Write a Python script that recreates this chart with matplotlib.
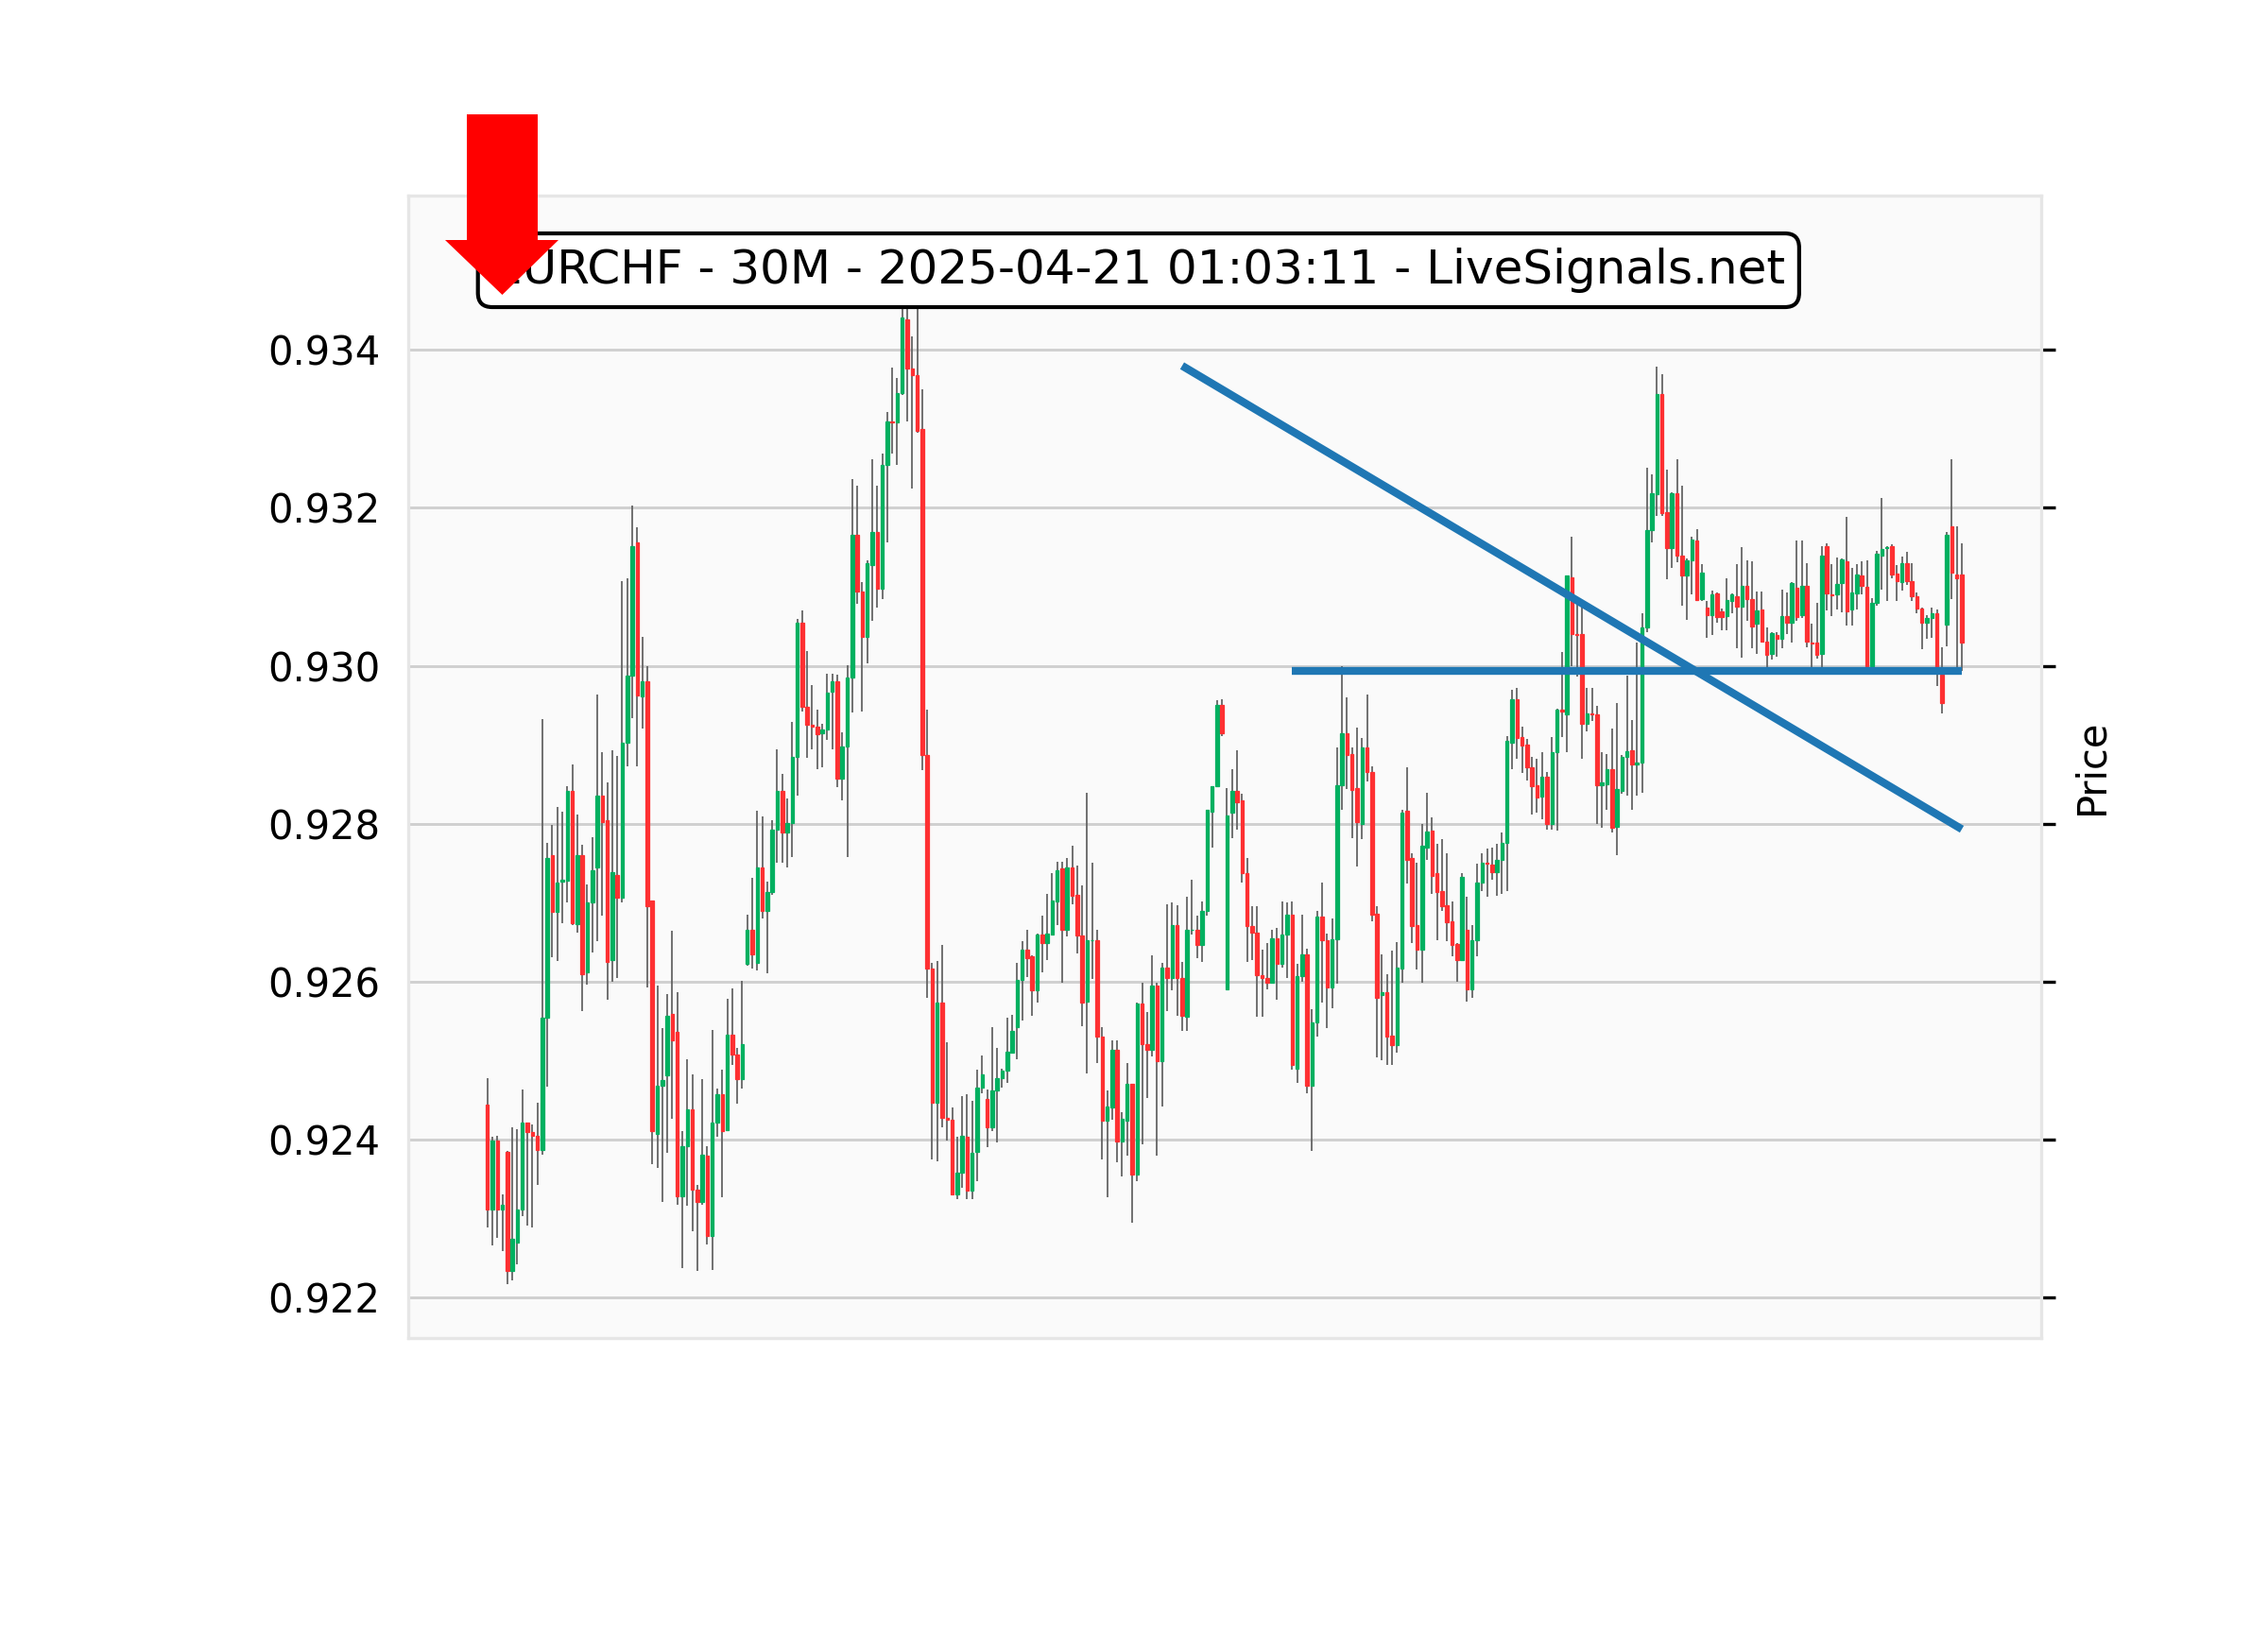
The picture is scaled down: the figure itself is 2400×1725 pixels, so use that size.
import matplotlib
matplotlib.use("Agg")
import matplotlib.pyplot as plt
import numpy as np
from matplotlib.patches import Polygon

title = "EURCHF - 30M - 2025-04-21 01:03:11 - LiveSignals.net"

opens = [
0.92444,0.92311,0.92399,0.92311,0.92384,0.92233,0.92270,0.92311,0.92422,0.92409,
0.92405,0.92387,0.92554,0.92760,0.92688,0.92727,0.92728,0.92842,0.92673,0.92760,
0.92612,0.92700,0.92744,0.92836,0.92804,0.92627,0.92735,0.92706,0.92903,0.92988,
0.93156,0.92961,0.92980,0.92703,0.92407,0.92468,0.92481,0.92559,0.92536,0.92328,
0.92391,0.92438,0.92337,0.92321,0.92379,0.92278,0.92421,0.92457,0.92412,0.92533,
0.92507,0.92476,0.92622,0.92665,0.92624,0.92744,0.92690,0.92713,0.92793,0.92842,
0.92789,0.92801,0.92884,0.93055,0.92948,0.92925,0.92923,0.92915,0.92919,0.92967,
0.92980,0.92857,0.92898,0.92985,0.93166,0.93094,0.93037,0.93128,0.93170,0.93098,
0.93254,0.93310,0.93308,0.93345,0.93439,0.93376,0.93368,0.93300,0.92887,0.92616,
0.92447,0.92573,0.92428,0.92425,0.92331,0.92358,0.92404,0.92335,0.92384,0.92466,
0.92451,0.92416,0.92462,0.92478,0.92487,0.92510,0.92542,0.92602,0.92641,0.92632,
0.92589,0.92660,0.92649,0.92660,0.92702,0.92743,0.92665,0.92745,0.92710,0.92658,
0.92575,0.92653,0.92653,0.92530,0.92424,0.92441,0.92513,0.92398,0.92424,0.92470,
0.92356,0.92572,0.92521,0.92513,0.92595,0.92499,0.92618,0.92604,0.92672,0.92604,
0.92556,0.92666,0.92666,0.92646,0.92689,0.92815,0.92847,0.92951,0.92590,0.92814,
0.92842,0.92829,0.92737,0.92670,0.92662,0.92608,0.92604,0.92599,0.92655,0.92622,
0.92659,0.92685,0.92490,0.92607,0.92634,0.92468,0.92548,0.92682,0.92653,0.92593,
0.92654,0.92849,0.92914,0.92888,0.92845,0.92800,0.92896,0.92866,0.92686,0.92583,
0.92586,0.92531,0.92519,0.92617,0.92816,0.92756,0.92671,0.92640,0.92770,0.92791,
0.92737,0.92715,0.92697,0.92676,0.92648,0.92627,0.92665,0.92590,0.92653,0.92725,
0.92751,0.92748,0.92738,0.92754,0.92776,0.92903,0.92958,0.92910,0.92900,0.92872,
0.92849,0.92834,0.92859,0.92800,0.92890,0.92944,0.92938,0.93112,0.93040,0.93040,
0.92927,0.92940,0.92938,0.92849,0.92850,0.92869,0.92796,0.92842,0.92884,0.92893,
0.92875,0.92878,0.93048,0.93172,0.93217,0.93344,0.93194,0.93149,0.93218,0.93140,
0.93114,0.93133,0.93159,0.93084,0.93074,0.93064,0.93092,0.93069,0.93063,0.93082,
0.93088,0.93075,0.93101,0.93084,0.93053,0.93071,0.93031,0.93015,0.93039,0.93034,
0.93063,0.93054,0.93099,0.93064,0.93101,0.93029,0.93029,0.93015,0.93151,0.93091,
0.93090,0.93105,0.93132,0.93071,0.93092,0.93114,0.93100,0.93000,0.93080,0.93140,
0.93149,0.93151,0.93117,0.93106,0.93130,0.93107,0.93088,0.93073,0.93054,0.93060,
0.93066,0.92989,0.93052,0.93177,0.93116,0.93116]

highs = [
0.92478,0.92403,0.92405,0.92331,0.92385,0.92415,0.92413,0.92463,0.92422,0.92419,
0.92446,0.92933,0.92776,0.92799,0.92821,0.92815,0.92847,0.92875,0.92812,0.92773,
0.92723,0.92783,0.92963,0.92891,0.92852,0.92893,0.92886,0.93107,0.93111,0.93203,
0.93176,0.93036,0.93000,0.92703,0.92595,0.92541,0.92584,0.92664,0.92586,0.92411,
0.92502,0.92483,0.92343,0.92477,0.92391,0.92539,0.92464,0.92489,0.92578,0.92591,
0.92516,0.92601,0.92685,0.92731,0.92816,0.92809,0.92727,0.92805,0.92894,0.92863,
0.92832,0.92929,0.93059,0.93070,0.93019,0.92975,0.92945,0.92927,0.92990,0.92990,
0.92989,0.92916,0.93001,0.93236,0.93228,0.93106,0.93133,0.93261,0.93228,0.93269,
0.93321,0.93378,0.93364,0.93490,0.93480,0.93417,0.93470,0.93350,0.92945,0.92624,
0.92626,0.92647,0.92523,0.92441,0.92404,0.92455,0.92457,0.92449,0.92488,0.92506,
0.92463,0.92542,0.92516,0.92490,0.92554,0.92558,0.92624,0.92651,0.92665,0.92633,
0.92661,0.92684,0.92711,0.92737,0.92752,0.92752,0.92756,0.92772,0.92747,0.92722,
0.92839,0.92750,0.92665,0.92542,0.92462,0.92526,0.92526,0.92434,0.92497,0.92471,
0.92573,0.92598,0.92562,0.92633,0.92598,0.92624,0.92698,0.92700,0.92697,0.92625,
0.92707,0.92729,0.92684,0.92701,0.92818,0.92848,0.92957,0.92958,0.92845,0.92869,
0.92893,0.92838,0.92757,0.92695,0.92696,0.92641,0.92649,0.92665,0.92668,0.92701,
0.92700,0.92702,0.92622,0.92685,0.92642,0.92565,0.92689,0.92725,0.92661,0.92680,
0.92896,0.93000,0.92960,0.92896,0.92922,0.92909,0.92963,0.92873,0.92695,0.92634,
0.92609,0.92639,0.92650,0.92818,0.92871,0.92763,0.92750,0.92800,0.92839,0.92808,
0.92775,0.92781,0.92762,0.92701,0.92649,0.92737,0.92708,0.92672,0.92749,0.92762,
0.92768,0.92770,0.92774,0.92789,0.92911,0.92970,0.92972,0.92923,0.92907,0.92885,
0.92882,0.92891,0.92866,0.92910,0.92946,0.93017,0.93114,0.93163,0.93079,0.93079,
0.92972,0.92972,0.92949,0.92890,0.92888,0.92921,0.92953,0.92887,0.92987,0.92931,
0.93030,0.93067,0.93251,0.93243,0.93379,0.93369,0.93249,0.93220,0.93262,0.93228,
0.93136,0.93163,0.93173,0.93129,0.93082,0.93095,0.93093,0.93072,0.93111,0.93092,
0.93129,0.93150,0.93134,0.93132,0.93094,0.93094,0.93049,0.93043,0.93043,0.93097,
0.93093,0.93106,0.93159,0.93159,0.93130,0.93053,0.93080,0.93152,0.93155,0.93129,
0.93137,0.93136,0.93189,0.93124,0.93129,0.93132,0.93134,0.93086,0.93146,0.93212,
0.93152,0.93154,0.93128,0.93138,0.93144,0.93130,0.93093,0.93074,0.93064,0.93074,
0.93071,0.93024,0.93169,0.93261,0.93177,0.93155]

lows = [
0.92288,0.92266,0.92276,0.92259,0.92217,0.92221,0.92242,0.92303,0.92291,0.92289,
0.92342,0.92381,0.92467,0.92631,0.92626,0.92674,0.92700,0.92671,0.92662,0.92563,
0.92596,0.92637,0.92651,0.92684,0.92577,0.92600,0.92604,0.92700,0.92873,0.92934,
0.92873,0.92920,0.92592,0.92369,0.92364,0.92321,0.92383,0.92426,0.92317,0.92237,
0.92316,0.92284,0.92234,0.92317,0.92267,0.92235,0.92403,0.92327,0.92412,0.92494,
0.92445,0.92465,0.92620,0.92616,0.92614,0.92680,0.92611,0.92710,0.92751,0.92750,
0.92744,0.92758,0.92836,0.92942,0.92883,0.92894,0.92869,0.92872,0.92906,0.92894,
0.92846,0.92830,0.92758,0.92941,0.93078,0.92942,0.93003,0.93057,0.93074,0.93084,
0.93156,0.93269,0.93254,0.93343,0.93309,0.93224,0.93295,0.92868,0.92579,0.92375,
0.92372,0.92416,0.92399,0.92331,0.92325,0.92339,0.92325,0.92325,0.92347,0.92458,
0.92390,0.92411,0.92396,0.92466,0.92472,0.92509,0.92502,0.92551,0.92606,0.92557,
0.92574,0.92612,0.92627,0.92660,0.92671,0.92599,0.92657,0.92698,0.92636,0.92544,
0.92484,0.92603,0.92497,0.92375,0.92327,0.92425,0.92371,0.92353,0.92380,0.92295,
0.92347,0.92394,0.92452,0.92505,0.92379,0.92442,0.92563,0.92589,0.92557,0.92538,
0.92538,0.92660,0.92630,0.92625,0.92684,0.92770,0.92847,0.92911,0.92590,0.92782,
0.92793,0.92725,0.92625,0.92627,0.92556,0.92556,0.92590,0.92599,0.92577,0.92618,
0.92604,0.92488,0.92472,0.92600,0.92459,0.92385,0.92530,0.92573,0.92541,0.92566,
0.92597,0.92817,0.92844,0.92782,0.92746,0.92781,0.92854,0.92676,0.92504,0.92501,
0.92495,0.92495,0.92510,0.92598,0.92724,0.92649,0.92615,0.92598,0.92754,0.92711,
0.92653,0.92689,0.92651,0.92632,0.92600,0.92627,0.92575,0.92580,0.92632,0.92715,
0.92708,0.92729,0.92709,0.92711,0.92715,0.92869,0.92882,0.92864,0.92855,0.92811,
0.92814,0.92806,0.92793,0.92793,0.92791,0.92910,0.92891,0.92999,0.92986,0.92882,
0.92917,0.92930,0.92800,0.92795,0.92818,0.92789,0.92760,0.92838,0.92836,0.92817,
0.92836,0.92839,0.93042,0.93156,0.93190,0.93190,0.93109,0.93124,0.93131,0.93076,
0.93058,0.93091,0.93082,0.93082,0.93035,0.93039,0.93055,0.93045,0.93045,0.93066,
0.93022,0.93010,0.93057,0.93022,0.93015,0.93031,0.92998,0.93008,0.93012,0.93022,
0.93040,0.93029,0.93057,0.93061,0.93024,0.92995,0.93009,0.92998,0.93070,0.93063,
0.93071,0.93068,0.93051,0.93051,0.93071,0.93090,0.92995,0.92995,0.93076,0.93097,
0.93082,0.93111,0.93082,0.93095,0.93103,0.93082,0.93066,0.93021,0.93034,0.93035,
0.92974,0.92940,0.93025,0.93084,0.92998,0.92993]

closes = [
0.92311,0.92399,0.92311,0.92317,0.92233,0.92274,0.92311,0.92422,0.92410,0.92405,
0.92387,0.92554,0.92757,0.92688,0.92726,0.92729,0.92842,0.92674,0.92760,0.92609,
0.92700,0.92741,0.92836,0.92802,0.92625,0.92739,0.92706,0.92903,0.92988,0.93152,
0.92962,0.92980,0.92696,0.92411,0.92468,0.92475,0.92557,0.92526,0.92328,0.92392,
0.92438,0.92337,0.92321,0.92381,0.92278,0.92421,0.92457,0.92411,0.92533,0.92507,
0.92476,0.92521,0.92665,0.92634,0.92744,0.92690,0.92713,0.92793,0.92842,0.92789,
0.92801,0.92884,0.93055,0.92948,0.92925,0.92923,0.92913,0.92919,0.92966,0.92980,
0.92857,0.92898,0.92985,0.93166,0.93094,0.93037,0.93130,0.93170,0.93098,0.93254,
0.93310,0.93308,0.93345,0.93441,0.93376,0.93368,0.93298,0.92887,0.92616,0.92447,
0.92573,0.92428,0.92425,0.92331,0.92358,0.92405,0.92335,0.92383,0.92466,0.92482,
0.92416,0.92462,0.92478,0.92487,0.92511,0.92538,0.92602,0.92641,0.92630,0.92589,
0.92660,0.92649,0.92661,0.92703,0.92741,0.92665,0.92745,0.92709,0.92658,0.92574,
0.92653,0.92653,0.92530,0.92424,0.92442,0.92513,0.92398,0.92426,0.92470,0.92356,
0.92572,0.92521,0.92513,0.92595,0.92499,0.92618,0.92604,0.92672,0.92604,0.92557,
0.92666,0.92666,0.92646,0.92689,0.92818,0.92847,0.92951,0.92914,0.92810,0.92842,
0.92827,0.92737,0.92670,0.92662,0.92608,0.92604,0.92599,0.92655,0.92622,0.92659,
0.92685,0.92494,0.92607,0.92634,0.92468,0.92548,0.92682,0.92653,0.92593,0.92654,
0.92849,0.92914,0.92887,0.92843,0.92802,0.92896,0.92866,0.92685,0.92580,0.92586,
0.92530,0.92519,0.92618,0.92814,0.92754,0.92670,0.92641,0.92772,0.92790,0.92734,
0.92714,0.92696,0.92675,0.92647,0.92627,0.92733,0.92590,0.92653,0.92726,0.92751,
0.92749,0.92738,0.92754,0.92776,0.92905,0.92958,0.92908,0.92899,0.92871,0.92848,
0.92833,0.92859,0.92800,0.92890,0.92945,0.92942,0.93114,0.93040,0.93039,0.92927,
0.92940,0.92938,0.92849,0.92852,0.92869,0.92795,0.92844,0.92885,0.92892,0.92875,
0.92878,0.93048,0.93172,0.93218,0.93344,0.93193,0.93149,0.93218,0.93140,0.93114,
0.93134,0.93160,0.93083,0.93118,0.93064,0.93091,0.93062,0.93062,0.93083,0.93090,
0.93075,0.93101,0.93084,0.93050,0.93070,0.93031,0.93014,0.93041,0.93034,0.93063,
0.93054,0.93105,0.93062,0.93101,0.93031,0.93028,0.93014,0.93140,0.93092,0.93089,
0.93104,0.93135,0.93069,0.93093,0.93116,0.93101,0.93000,0.93080,0.93142,0.93148,
0.93150,0.93116,0.93107,0.93130,0.93107,0.93088,0.93073,0.93054,0.93061,0.93067,
0.92995,0.92953,0.93166,0.93118,0.93111,0.93029]

trend_x = [139, 295]
trend_y = [0.93380, 0.92793]
level_x = [161, 295]
level_y = [0.92993, 0.92993]

yticks = [0.922, 0.924, 0.926, 0.928, 0.930, 0.932, 0.934]

UP = "#00b060"
DOWN = "#fe3032"
WICK = "#606060"

o = np.array(opens); h = np.array(highs); l = np.array(lows); c = np.array(closes)
x = np.arange(len(o))
up = c >= o
cols = np.where(up, UP, DOWN)

fig = plt.figure(figsize=(8, 5.75), dpi=300)
ax = fig.add_axes([0.17983, 0.17925, 0.72004, 0.70099])
ax.set_facecolor("#fafafa")
for s in ax.spines.values():
    s.set_color("#e6e6e6")
    s.set_linewidth(0.8)

ax.vlines(x, l, h, colors=WICK, linewidth=0.42, zorder=2)
ax.bar(x, np.abs(c - o), bottom=np.minimum(o, c), width=0.66, color=cols,
       edgecolor=cols, linewidth=0.3, zorder=3)

ax.plot(trend_x, trend_y, color="#1f77b4", linewidth=2, zorder=4,
        solid_capstyle="butt")
ax.plot(level_x, level_y, color="#1f77b4", linewidth=2, zorder=4,
        solid_capstyle="butt")

ax.set_xlim(-15.9, 310.82)
ax.set_ylim(0.921488, 0.935960)
ax.set_yticks(yticks)
ax.set_yticklabels([f"{v:.3f}" for v in yticks])
ax.yaxis.grid(True, color="#d0d0d0", linewidth=0.7)
ax.xaxis.grid(False)
ax.set_axisbelow(True)
ax.set_xticks([])
ax.tick_params(axis="y", left=False, right=True, labelleft=True, labelright=False,
               length=3.6, width=0.8, labelsize=10, pad=3.5)
ax.yaxis.set_label_position("right")
ax.set_ylabel("Price", fontsize=10, labelpad=4.2)

fig.text(0.502, 0.8342, title, ha="center", va="center", fontsize=12, zorder=10,
         bbox=dict(boxstyle="round,pad=0.3", facecolor="white", edgecolor="black",
                   linewidth=1.0))

W, H = 2400.0, 1725.0
pts_px = [(494, 121), (569, 121), (569, 254), (591, 254), (531.5, 312),
          (471, 254), (494, 254)]
pts = [(px / W, 1 - py / H) for px, py in pts_px]
fig.add_artist(Polygon(pts, closed=True, transform=fig.transFigure,
                       facecolor="#ff0000", edgecolor="none", zorder=20))

fig.savefig("out.png", dpi=300)
